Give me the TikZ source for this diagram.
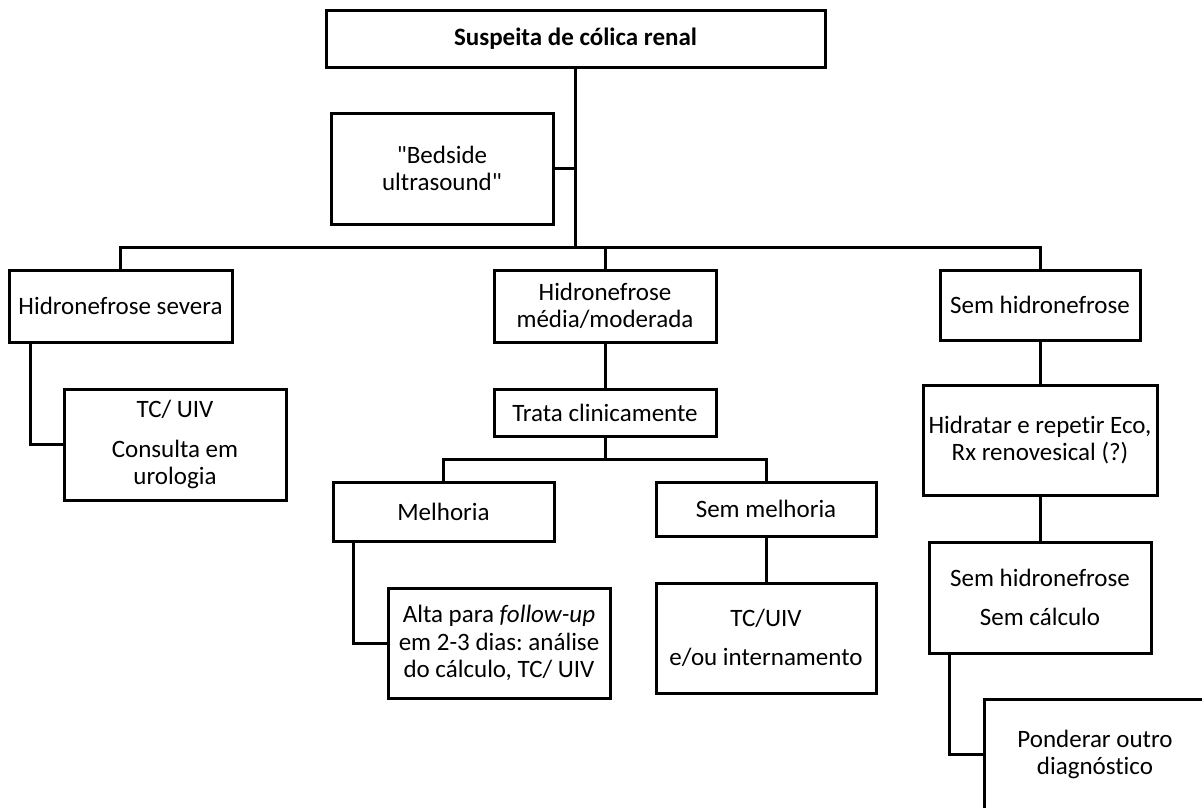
\documentclass[tikz,border=0pt]{standalone}
\usepackage{fontspec}
\newfontfamily\calib{Carlito}[Ligatures=NoCommon]
\frenchspacing
\begin{document}
\begin{tikzpicture}[x=1pt, y=-1pt, line width=3pt,
  box/.style={draw, align=center, inner sep=2pt, minimum width=222pt,
    font=\calib\fontsize{25}{27.5}\selectfont}]
  \useasboundingbox (0,0) rectangle (1202,807);
  \clip (0,0) rectangle (1202,807);
  \node[box, minimum width=499pt, minimum height=57pt] (top) at (575.5,38.5) {\bfseries Suspeita de cólica renal};
  \node[box, minimum height=111pt] (bedside) at (442,168.5) {"Bedside\\ultrasound"};
  \node[box, minimum width=223pt, minimum height=72pt] (sev) at (120.5,306) {Hidronefrose severa};
  \node[box, minimum height=72pt] (med) at (605,306) {Hidronefrose\\média/moderada};
  \node[box, minimum width=200pt, minimum height=70pt] (sem) at (1040,305) {Sem hidronefrose};
  \node[box, minimum height=111pt] (tcuiv) at (175,444.5) {TC/ UIV\\[12pt]Consulta em\\urologia};
  \node[box, minimum height=47pt] (trata) at (605,412.5) {Trata clinicamente};
  \node[box, minimum width=221pt, minimum height=59pt] (melh) at (443.5,512) {Melhoria};
  \node[box, minimum width=220pt, minimum height=54pt] (semmelh) at (766,509) {Sem melhoria};
  \node[box, minimum height=110pt] (alta) at (499,643) {Alta para \textit{follow-up}\\em 2-3 dias: análise\\do cálculo, TC/ UIV};
  \node[box, minimum width=220pt, minimum height=110pt] (intern) at (766,638) {TC/UIV\\[12pt]e/ou internamento};
  \node[box, minimum width=234pt, minimum height=110pt] (hidrat) at (1040,440) {Hidratar e repetir Eco,\\Rx renovesical (?)};
  \node[box, minimum height=111pt] (semcalc) at (1040,597.5) {Sem hidronefrose\\[12pt]Sem cálculo};
  \node[box, minimum height=111pt] (ponder) at (1095,754.5) {Ponderar outro\\diagnóstico};
  \coordinate (ramo) at (575.5,247);
  \coordinate (ramo2) at (605,459);
  \draw (top) -- (ramo);
  \draw (bedside.east) -- (bedside.east -| ramo);
  \draw (sev.north) |- (ramo) -| (sem.north);
  \draw (med.north) -- (med.north |- ramo);
  \draw (sev.south west) ++(23,0) |- (tcuiv.west);
  \draw (med) -- (trata);
  \draw (trata) -- (ramo2);
  \draw (melh.north) |- (ramo2) -| (semmelh.north);
  \draw (melh.south west) ++(22,0) |- (alta.west);
  \draw (semmelh) -- (intern);
  \draw (sem) -- (hidrat);
  \draw (hidrat) -- (semcalc);
  \draw (semcalc.south west) ++(22,0) |- (ponder.west);
\end{tikzpicture}
\end{document}
